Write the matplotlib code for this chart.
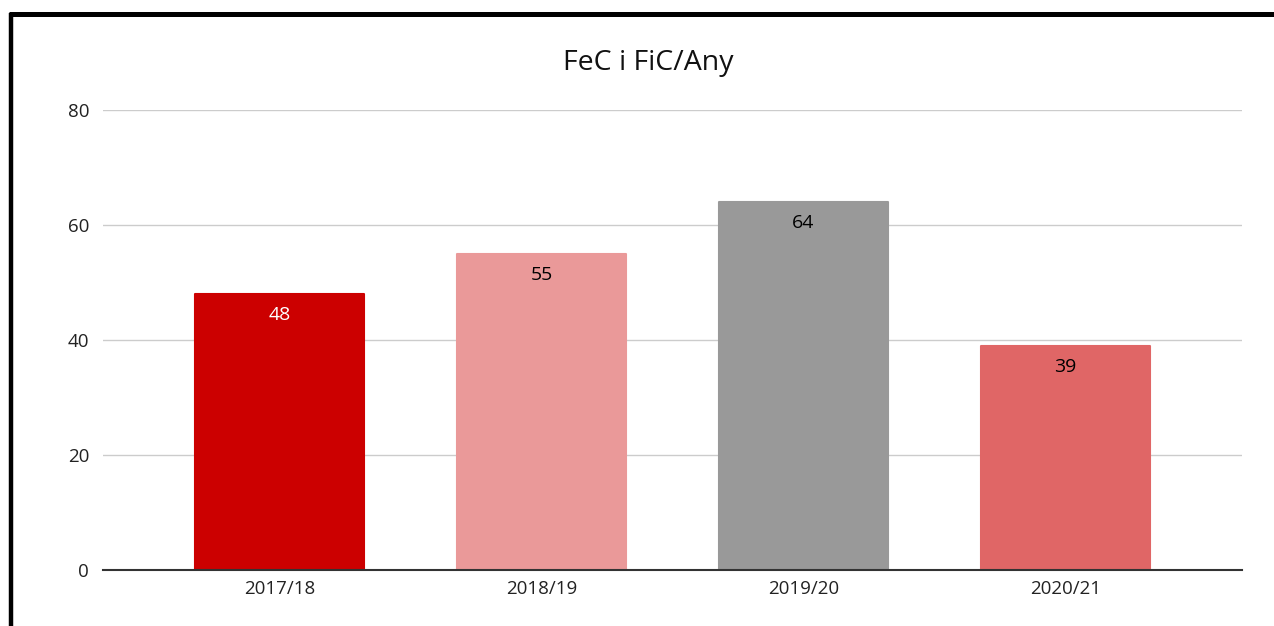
import matplotlib.pyplot as plt
from matplotlib.lines import Line2D

# Data
seasons = ['2017/18', '2018/19', '2019/20', '2020/21']
values = [48, 55, 64, 39]
colors = ['#cc0000', '#ea9999', '#999999', '#e06666']
label_colors = ['white', 'black', 'black', 'black']
yticks = [0, 20, 40, 60, 80]

plt.rcParams['font.family'] = ['Open Sans', 'DejaVu Sans']

fig = plt.figure(figsize=(12.74, 6.26), dpi=100)
ax = fig.add_axes([103 / 1274, 1 - 570 / 626, 1139 / 1274, 460 / 626])

x = range(len(seasons))
bars = ax.bar(x, values, width=0.645, color=colors, edgecolor=colors,
              linewidth=1.5, joinstyle='round', zorder=3)

# Value labels inside the top of each bar
for bar, val, tc in zip(bars, values, label_colors):
    ax.annotate(str(val),
                xy=(bar.get_x() + bar.get_width() / 2, bar.get_height()),
                xytext=(0, -15), textcoords='offset points',
                ha='center', va='center', fontsize=14, color=tc, zorder=4)

ax.set_xlim(-0.675, 3.675)
ax.set_ylim(0, 80)
ax.set_yticks(yticks)
ax.set_xticks(list(x))
ax.set_xticklabels(seasons)
ax.tick_params(axis='both', length=0, labelsize=13.5, colors='#222222')
ax.tick_params(axis='y', pad=10)
ax.tick_params(axis='x', pad=7)
ax.grid(axis='y', color='#cccccc', linewidth=1, zorder=0)
for side in ['top', 'right', 'left']:
    ax.spines[side].set_visible(False)
ax.spines['bottom'].set_color('#333333')
ax.spines['bottom'].set_linewidth(1.5)
ax.spines['bottom'].set_zorder(5)

fig.text(648 / 1274, 1 - 63 / 626, 'FeC i FiC/Any', ha='center', va='center',
         fontsize=20.5, color='#111111')

# Black frame on top and left
fig.add_artist(Line2D([8.5 / 1274, 1], [1 - 13.5 / 626, 1 - 13.5 / 626],
                      transform=fig.transFigure, color='black', linewidth=3.6,
                      solid_capstyle='butt'))
fig.add_artist(Line2D([10.5 / 1274, 10.5 / 1274], [0, 1 - 12.5 / 626],
                      transform=fig.transFigure, color='black', linewidth=3.2,
                      solid_capstyle='butt'))

fig.savefig('out.png', dpi=100)
